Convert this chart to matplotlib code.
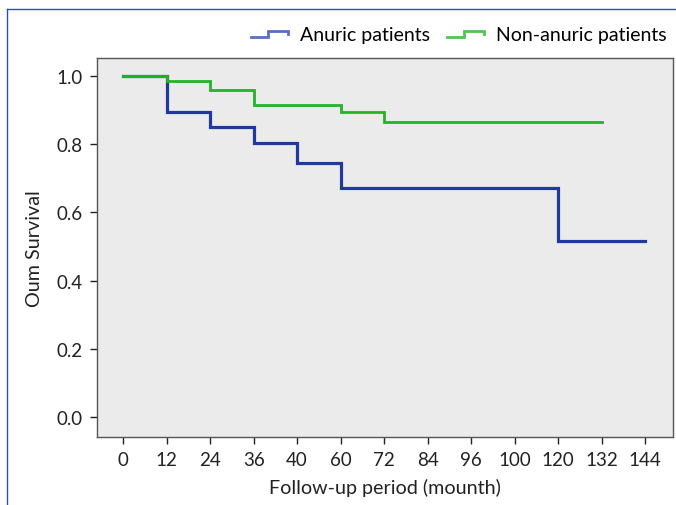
import matplotlib
matplotlib.use("Agg")
import matplotlib.pyplot as plt
from matplotlib.legend_handler import HandlerBase
from matplotlib.lines import Line2D

# tick labels on the follow-up axis (evenly spaced categories)
month_labels = ['0', '12', '24', '36', '40', '60', '72', '84', '96', '100', '120', '132', '144']

# Kaplan-Meier steps (x = position of the month label)
anuric_x = [0, 1, 2, 3, 4, 5, 10, 12]
anuric_surv = [1.0, 0.895, 0.851, 0.805, 0.744, 0.671, 0.517, 0.517]

nonanuric_x = [0, 1, 2, 3, 5, 6, 11]
nonanuric_surv = [1.0, 0.985, 0.96, 0.916, 0.896, 0.865, 0.865]

y_ticks = [0.0, 0.2, 0.4, 0.6, 0.8, 1.0]


class StepHandler(HandlerBase):
    # draws the little step icon used in the legend
    def create_artists(self, legend, orig_handle, xdescent, ydescent,
                       width, height, fontsize, trans):
        lo = height * 0.25
        hi = height * 0.7
        xs = [0, width * 0.45, width * 0.45, width, width]
        ys = [lo, lo, hi, hi, hi - height * 0.25]
        ln = Line2D(xs, ys, color=orig_handle.get_color(),
                    lw=orig_handle.get_linewidth(), transform=trans,
                    solid_joinstyle='miter')
        return [ln]


plt.rcParams['font.family'] = ['Lato', 'DejaVu Sans']

fig = plt.figure(figsize=(6.76, 5.06), dpi=100)
ax = fig.add_axes([0.1435, 0.1344, 0.8521, 0.749])
ax.set_facecolor('#ebebeb')

ax.step(anuric_x, anuric_surv, where='post', color='#1f3a9c', lw=2.3,
        solid_joinstyle='miter')
ax.step(nonanuric_x, nonanuric_surv, where='post', color='#22b524', lw=2.0,
        solid_joinstyle='miter')

ax.set_xlim(-0.6, 12.64)
ax.set_ylim(-0.0587, 1.053)
ax.set_xticks(range(len(month_labels)))
ax.set_xticklabels(month_labels)
ax.set_yticks(y_ticks)
ax.set_yticklabels([f'{v:.1f}' for v in y_ticks])
ax.tick_params(labelsize=13.5, colors='#222222', length=5, width=1, pad=5)

for s in ax.spines.values():
    s.set_color('#555555')
    s.set_linewidth(1.0)

ax.set_xlabel('Follow-up period (mounth)', fontsize=14.2, color='#222222', labelpad=7)
ax.set_ylabel('Oum Survival', fontsize=14.2, color='#222222', labelpad=10)

h1 = Line2D([], [], color='#5a6ec0', lw=2.0)
h2 = Line2D([], [], color='#4fc44f', lw=2.0)
fig.legend([h1, h2], ['Anuric patients', 'Non-anuric patients'],
           loc='center right', bbox_to_anchor=(1.0, 0.929), ncol=2,
           frameon=False, fontsize=14, handlelength=1.9, handletextpad=0.6,
           columnspacing=0.9, borderaxespad=0.1,
           handler_map={Line2D: StepHandler()})

# blue frame edges at the left and top of the picture
fig.add_artist(Line2D([7 / 676, 7 / 676], [0, 1 - 10 / 506], color='#3050b0', lw=1.0,
                      transform=fig.transFigure))
fig.add_artist(Line2D([7 / 676, 1], [1 - 10 / 506, 1 - 10 / 506], color='#3050b0', lw=1.0,
                      transform=fig.transFigure))

fig.savefig('out.png', dpi=100)
